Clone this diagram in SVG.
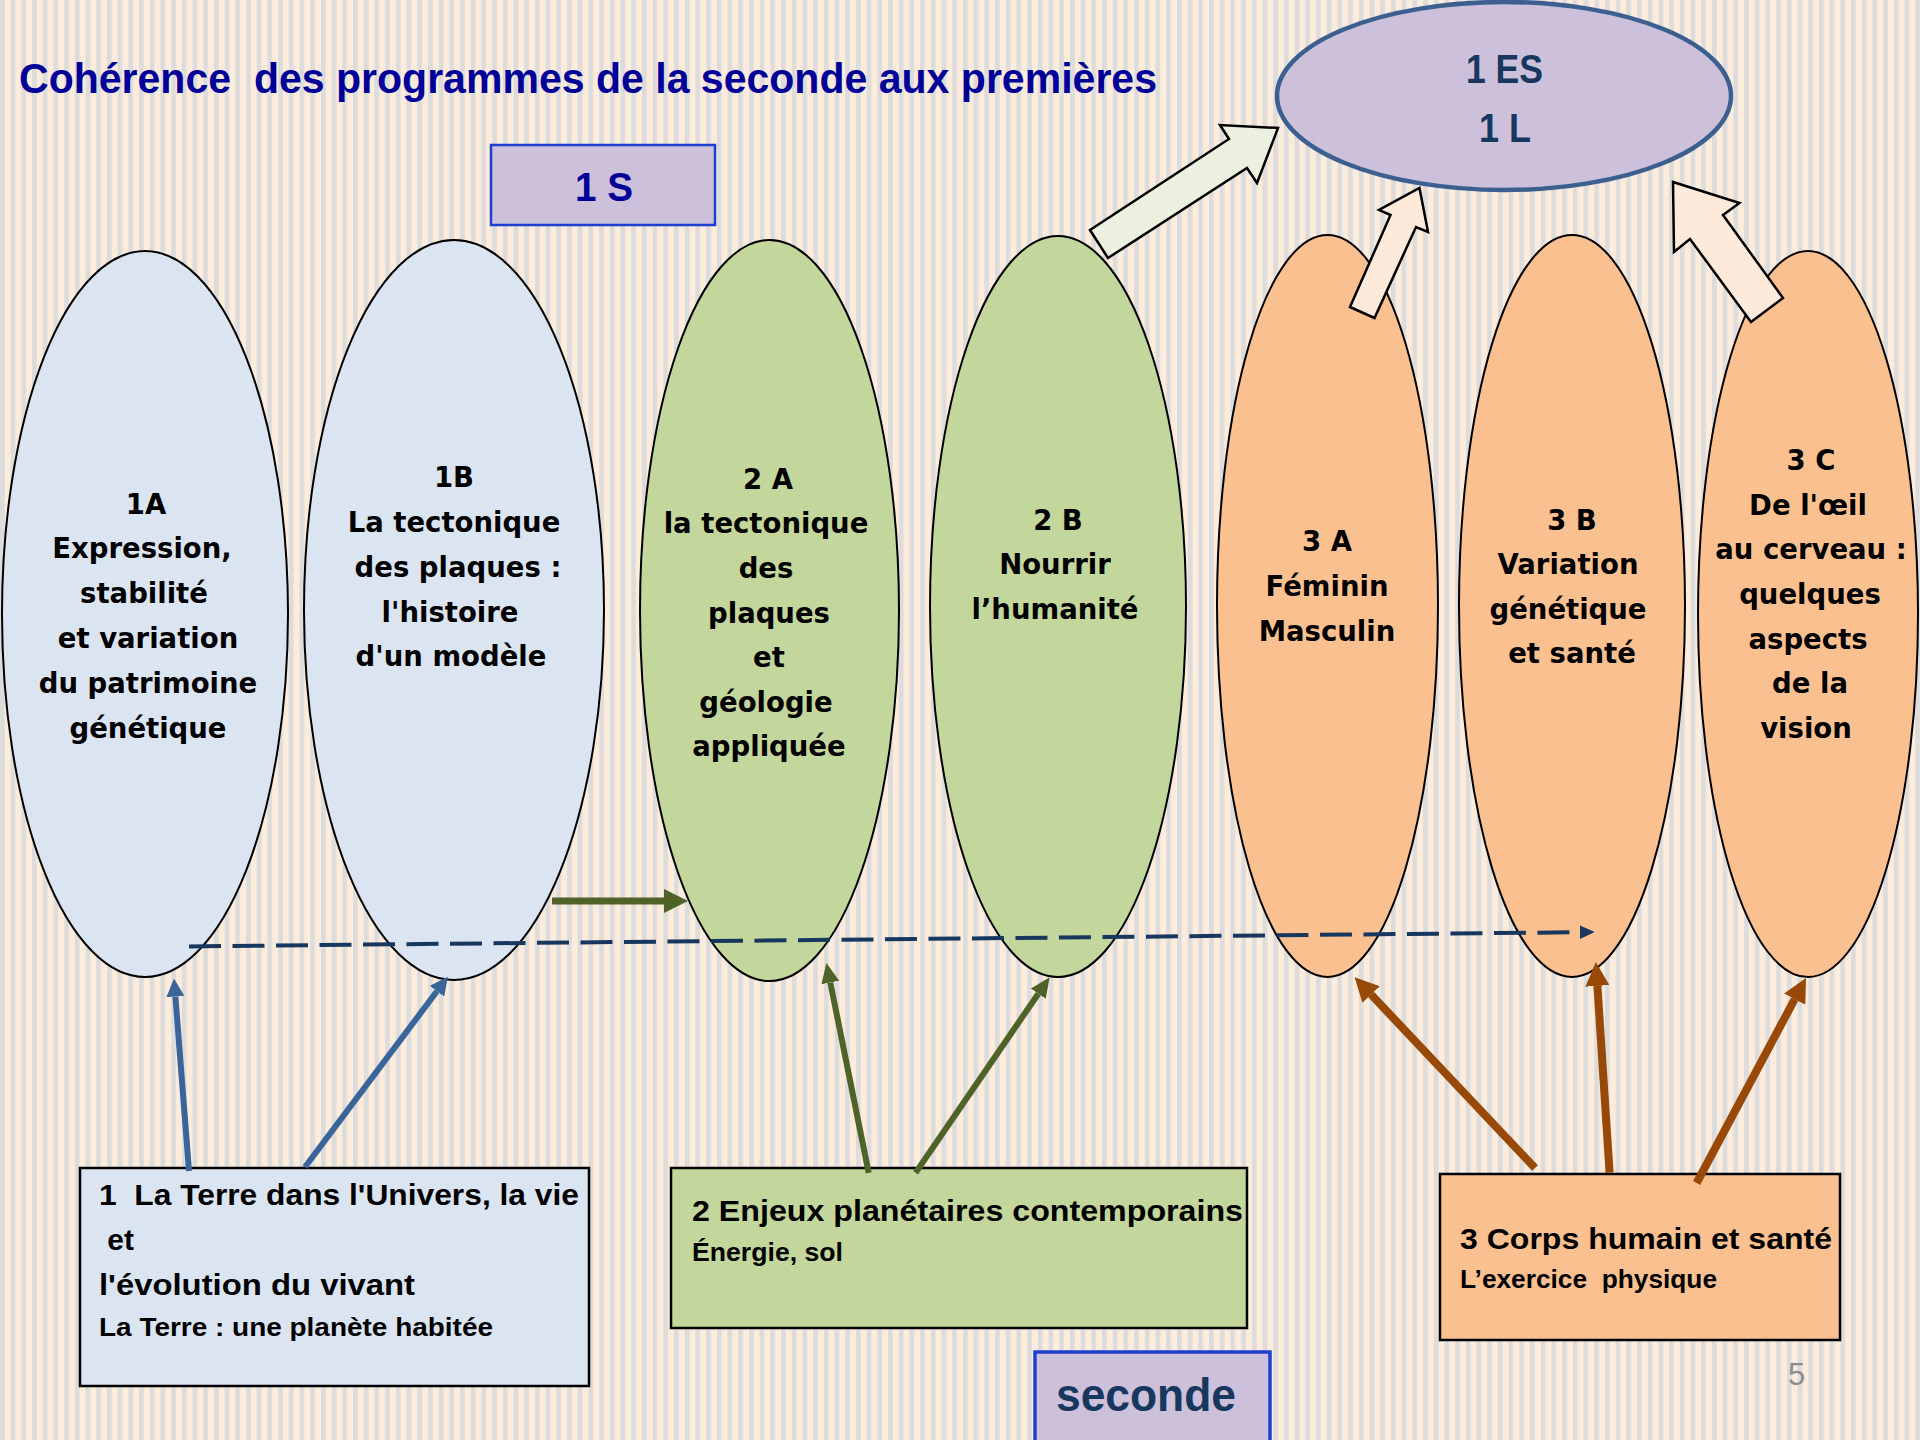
<svg xmlns="http://www.w3.org/2000/svg" width="1920" height="1440" viewBox="0 0 1920 1440">
<defs>
<pattern id="stripes" patternUnits="userSpaceOnUse" width="10.7" height="20">
<rect x="0" y="0" width="10.7" height="20" fill="#fdebdc"/>
<rect x="0" y="0" width="4.6" height="20" fill="#dcdcdc"/>
</pattern>
<marker id="hBlue" viewBox="0 0 18 18" refX="0" refY="9" markerWidth="18" markerHeight="18" markerUnits="userSpaceOnUse" orient="auto"><path d="M0,0 L18,9 L0,18 z" fill="#3a659a"/></marker>
<marker id="hGreen" viewBox="0 0 20 18" refX="0" refY="9" markerWidth="20" markerHeight="18" markerUnits="userSpaceOnUse" orient="auto"><path d="M0,0 L20,9 L0,18 z" fill="#4f6228"/></marker>
<marker id="hGreenBig" viewBox="0 0 24 24" refX="0" refY="12" markerWidth="24" markerHeight="24" markerUnits="userSpaceOnUse" orient="auto"><path d="M0,0 L24,12 L0,24 z" fill="#4f6228"/></marker>
<marker id="hBrown" viewBox="0 0 24 24" refX="0" refY="12" markerWidth="24" markerHeight="24" markerUnits="userSpaceOnUse" orient="auto"><path d="M0,0 L24,12 L0,24 z" fill="#984807"/></marker>
<marker id="hNavy" viewBox="0 0 15 14" refX="0" refY="7" markerWidth="15" markerHeight="14" markerUnits="userSpaceOnUse" orient="auto"><path d="M0,0 L15,7 L0,14 z" fill="#17375e"/></marker>
</defs>
<style>
.ell{stroke:#000;stroke-width:2}
.blue{fill:#dbe5f1}
.green{fill:#c3d69b}
.orange{fill:#fac090}
.et{font-family:"DejaVu Sans",Verdana,sans-serif;font-weight:bold;font-size:27.5px;fill:#000;text-anchor:middle}
.bx{stroke:#000;stroke-width:2.5}
.bt{font-family:"Liberation Sans",Arial,sans-serif;font-weight:bold;font-size:30px;fill:#000}
.bs{font-family:"Liberation Sans",Arial,sans-serif;font-weight:bold;font-size:25px;fill:#000}
.lab{font-family:"Liberation Sans",Arial,sans-serif;font-weight:bold;font-size:41px}
.blk{stroke:#000;stroke-width:2.5;stroke-linejoin:miter}
</style>
<rect x="0" y="0" width="1920" height="1440" fill="url(#stripes)"/>

<text x="19" y="93" font-family="Liberation Sans, Arial, sans-serif" font-weight="bold" font-size="42" fill="#000099" textLength="1138" lengthAdjust="spacingAndGlyphs" xml:space="preserve">Cohérence  des programmes de la seconde aux premières</text>

<g id="n1S">
<rect x="491" y="145" width="224" height="80" fill="#ccc0da" stroke="#1f3fd0" stroke-width="2.5"/>
<text class="lab" x="575" y="201" fill="#000099" textLength="58" lengthAdjust="spacingAndGlyphs">1 S</text>
</g>

<g id="n1ES">
<ellipse cx="1504" cy="96" rx="227" ry="94" fill="#ccc0da" stroke="#3b5f8f" stroke-width="4.5"/>
<text class="lab" x="1466" y="83" fill="#17375e" textLength="77" lengthAdjust="spacingAndGlyphs">1 ES</text>
<text class="lab" x="1479" y="142" fill="#17375e" textLength="52" lengthAdjust="spacingAndGlyphs">1 L</text>
</g>

<g id="n1A">
<ellipse class="ell blue" cx="145" cy="614" rx="143" ry="363"/>
<text class="et"><tspan x="146" y="513.6">1A</tspan><tspan x="142" dy="44.8">Expression,</tspan><tspan x="144" dy="44.8">stabilité</tspan><tspan x="148" dy="44.8">et variation</tspan><tspan x="148" dy="44.8">du patrimoine</tspan><tspan x="148" dy="44.8">génétique</tspan></text>
</g>

<g id="n1B">
<ellipse class="ell blue" cx="454" cy="610" rx="150" ry="370"/>
<text class="et"><tspan x="454" y="487">1B</tspan><tspan x="454" dy="45">La tectonique</tspan><tspan x="458" dy="45">des plaques :</tspan><tspan x="450" dy="44.6">l'histoire</tspan><tspan x="451" dy="44.6">d'un modèle</tspan></text>
</g>

<g id="n2A">
<ellipse class="ell green" cx="769.5" cy="610.5" rx="129.5" ry="370.5"/>
<text class="et"><tspan x="768" y="488.7">2 A</tspan><tspan x="766" dy="44.6">la tectonique</tspan><tspan x="766" dy="44.6">des</tspan><tspan x="769" dy="44.6">plaques</tspan><tspan x="769" dy="44.6">et</tspan><tspan x="766" dy="44.6">géologie</tspan><tspan x="769" dy="44.6">appliquée</tspan></text>
</g>

<g id="n2B">
<ellipse class="ell green" cx="1058" cy="606.5" rx="128" ry="370.5"/>
<text class="et"><tspan x="1058" y="529.5">2 B</tspan><tspan x="1055" dy="44.5">Nourrir</tspan><tspan x="1055" dy="44.5">l’humanité</tspan></text>
</g>

<g id="n3A">
<ellipse class="ell orange" cx="1327.5" cy="606" rx="110.5" ry="371"/>
<text class="et"><tspan x="1327" y="551">3 A</tspan><tspan x="1327" dy="44.6">Féminin</tspan><tspan x="1327" dy="45">Masculin</tspan></text>
</g>

<g id="n3B">
<ellipse class="ell orange" cx="1572" cy="606" rx="113" ry="371"/>
<text class="et"><tspan x="1572" y="529.5">3 B</tspan><tspan x="1568" dy="44.5">Variation</tspan><tspan x="1568" dy="44.5">génétique</tspan><tspan x="1572" dy="44.5">et santé</tspan></text>
</g>

<g id="n3C">
<ellipse class="ell orange" cx="1808" cy="614" rx="110" ry="363"/>
<text class="et"><tspan x="1811" y="469.8">3 C</tspan><tspan x="1808" dy="44.7">De l'œil</tspan><tspan x="1811" dy="44.7">au cerveau :</tspan><tspan x="1810" dy="44.7">quelques</tspan><tspan x="1808" dy="44.7">aspects</tspan><tspan x="1810" dy="44.7">de la</tspan><tspan x="1806" dy="44.7">vision</tspan></text>
</g>

<g id="box1">
<rect class="bx" x="80" y="1168" width="509" height="218" fill="#dbe5f1"/>
<text class="bt" x="99" y="1205" textLength="480" lengthAdjust="spacingAndGlyphs" xml:space="preserve">1  La Terre dans l'Univers, la vie</text>
<text class="bt" x="99" y="1250" xml:space="preserve"> et</text>
<text class="bt" x="99" y="1295" textLength="316" lengthAdjust="spacingAndGlyphs">l'évolution du vivant</text>
<text class="bs" x="99" y="1336" textLength="394" lengthAdjust="spacingAndGlyphs">La Terre : une planète habitée</text>
</g>

<g id="box2">
<rect class="bx" x="671" y="1168" width="576" height="160" fill="#c3d69b"/>
<text class="bt" x="692" y="1221" textLength="551" lengthAdjust="spacingAndGlyphs">2 Enjeux planétaires contemporains</text>
<text class="bs" x="692" y="1261" textLength="151" lengthAdjust="spacingAndGlyphs">Énergie, sol</text>
</g>

<g id="box3">
<rect class="bx" x="1440" y="1174" width="400" height="166" fill="#fac090"/>
<text class="bt" x="1460" y="1249" textLength="372" lengthAdjust="spacingAndGlyphs">3 Corps humain et santé</text>
<text class="bs" x="1460" y="1288" textLength="257" lengthAdjust="spacingAndGlyphs" xml:space="preserve">L’exercice  physique</text>
</g>

<g id="nSeconde">
<rect x="1035" y="1352" width="235" height="100" fill="#ccc0da" stroke="#1f3fd0" stroke-width="3.5"/>
<text x="1056" y="1411" font-family="Liberation Sans, Arial, sans-serif" font-weight="bold" font-size="46" fill="#17375e" textLength="180" lengthAdjust="spacingAndGlyphs">seconde</text>
</g>

<text x="1788" y="1385" font-family="Liberation Sans, Arial, sans-serif" font-size="31" fill="#8c8c8c">5</text>

<g id="connectors">
<polygon class="blk" fill="#ebf1de" points="1090,230 1229,139 1220,125 1278,128 1257,183 1247,168 1108,258"/>
<polygon class="blk" fill="#fdeada" points="1350,307 1390.5,215 1379,210 1419.5,188 1428,232 1416,227 1374.5,318"/>
<polygon class="blk" fill="#fdeada" points="1673,182 1739.5,203 1723,215 1783,298 1751,322 1690,239 1674,252"/>

<line x1="189" y1="946.4" x2="1579.6" y2="932.2" stroke="#17375e" stroke-width="4" stroke-dasharray="32 11.5" marker-end="url(#hNavy)"/>
<line x1="552" y1="901" x2="664" y2="901" stroke="#4f6228" stroke-width="7" marker-end="url(#hGreenBig)"/>

<line x1="189" y1="1171" x2="175.4" y2="996.5" stroke="#3a659a" stroke-width="6" marker-end="url(#hBlue)"/>
<line x1="305" y1="1167" x2="437" y2="991.2" stroke="#3a659a" stroke-width="6" marker-end="url(#hBlue)"/>

<line x1="868.7" y1="1172.8" x2="830.3" y2="982.5" stroke="#4f6228" stroke-width="6" marker-end="url(#hGreen)"/>
<line x1="915.6" y1="1172.8" x2="1038.3" y2="993.7" stroke="#4f6228" stroke-width="6" marker-end="url(#hGreen)"/>

<line x1="1535" y1="1168" x2="1371.1" y2="994.6" stroke="#984807" stroke-width="8" marker-end="url(#hBrown)"/>
<line x1="1609.6" y1="1172.8" x2="1597.4" y2="985.9" stroke="#984807" stroke-width="8" marker-end="url(#hBrown)"/>
<line x1="1696.6" y1="1183" x2="1794.7" y2="999.2" stroke="#984807" stroke-width="8" marker-end="url(#hBrown)"/>
</g>
</svg>
